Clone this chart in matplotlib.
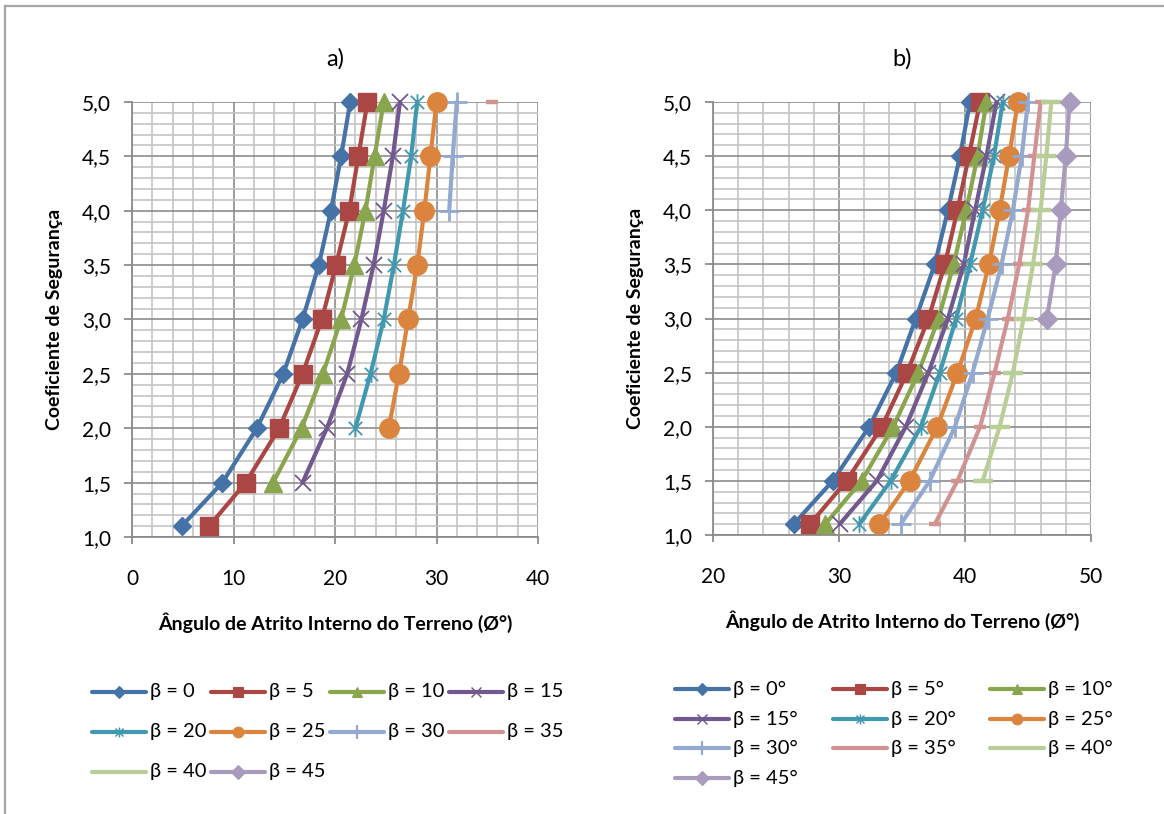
import matplotlib
matplotlib.use("Agg")
import matplotlib.pyplot as plt
from matplotlib.lines import Line2D
from matplotlib.path import Path
from matplotlib.ticker import MultipleLocator, FuncFormatter

plt.rcParams['font.family'] = ['Lato', 'DejaVu Sans']

# ---------------- data ----------------
fs_levels = [5.0, 4.5, 4.0, 3.5, 3.0, 2.5, 2.0, 1.5, 1.1]

# chart a) friction angle (deg) for each beta, listed from FS=5.0 downward
a_beta0 = [21.5, 20.6, 19.6, 18.4, 16.8, 14.9, 12.3, 8.9, 4.9]
a_beta5 = [23.2, 22.3, 21.4, 20.1, 18.7, 16.8, 14.5, 11.2, 7.6]
a_beta10 = [24.8, 23.9, 23.0, 21.9, 20.6, 18.8, 16.7, 13.9]
a_beta15 = [26.4, 25.7, 24.8, 23.8, 22.6, 21.2, 19.2, 16.8]
a_beta20 = [28.1, 27.5, 26.7, 25.8, 24.8, 23.5, 22.0]
a_beta25 = [30.0, 29.4, 28.8, 28.1, 27.2, 26.3, 25.3]
a_beta30 = [32.0, 31.6, 31.25]
a_beta35 = [35.5]
a_labels = ["β = 0", "β = 5", "β = 10", "β = 15", "β = 20",
            "β = 25", "β = 30", "β = 35", "β = 40", "β = 45"]

# chart b)
b_beta0 = [40.4, 39.6, 38.65, 37.6, 36.1, 34.55, 32.4, 29.5, 26.4]
b_beta5 = [41.2, 40.3, 39.4, 38.4, 37.1, 35.4, 33.4, 30.6, 27.7]
b_beta10 = [41.7, 41.0, 40.1, 39.1, 37.9, 36.3, 34.3, 31.8, 28.9]
b_beta15 = [42.5, 41.7, 40.8, 39.9, 38.65, 37.1, 35.3, 33.0, 30.05]
b_beta20 = [43.0, 42.3, 41.4, 40.4, 39.3, 38.0, 36.5, 34.1, 31.6]
b_beta25 = [44.2, 43.5, 42.75, 41.9, 40.85, 39.4, 37.8, 35.6, 33.2]
b_beta30 = [45.0, 44.5, 43.8, 42.9, 41.8, 40.6, 39.2, 37.2, 34.9]
b_beta35 = [46.0, 45.5, 45.0, 44.3, 43.4, 42.35, 41.2, 39.4, 37.6]
b_beta40 = [46.85, 46.45, 46.0, 45.4, 44.65, 43.8, 42.75, 41.4]
b_beta45 = [48.3, 48.0, 47.6, 47.2, 46.5]
b_labels = ["β = 0°", "β = 5°", "β = 10°", "β = 15°", "β = 20°",
            "β = 25°", "β = 30°", "β = 35°", "β = 40°", "β = 45°"]

colors = ['#4573A8', '#AA4643', '#89A54E', '#71588F', '#4198AF',
          '#DB843D', '#93A9CF', '#D19392', '#B9CD96', '#A99BBD']

# ---------------- styles ----------------
star = Path([(-1, -1), (1, 1), (-1, 1), (1, -1), (0, -1.25), (0, 1.25)],
            [Path.MOVETO, Path.LINETO, Path.MOVETO, Path.LINETO, Path.MOVETO, Path.LINETO])

# (marker, size, edge width, filled)
styles = [
    ('D', 9.5, 1.0, True),
    ('s', 13.5, 1.0, True),
    ('^', 13.5, 1.0, True),
    ('x', 12, 1.3, False),
    (star, 12, 1.3, False),
    ('o', 14, 1.0, True),
    ('+', 15, 2.0, False),
    ('_', 8, 3.2, False),
    ('_', 15, 3.2, False),
    ('D', 10.5, 1.0, True),
]
leg_scale = [0.62, 0.55, 0.55, 0.6, 0.6, 0.55, 0.7, 0.0, 0.0, 0.65]

W, H = 1164, 814
fig = plt.figure(figsize=(W / 100, H / 100), dpi=100)


def fx(px):
    return px / W


def fy(py):
    return 1 - py / H


# outer frame (top and left visible)
fig.add_artist(Line2D([fx(5), fx(5)], [fy(6), fy(816)], color='#A6A6A6', lw=1.6))
fig.add_artist(Line2D([fx(5), fx(1170)], [fy(6), fy(6)], color='#A6A6A6', lw=1.6))

ax_a = fig.add_axes([fx(132), fy(537), fx(538) - fx(132), fy(102) - fy(537)])
ax_b = fig.add_axes([fx(713), fy(535), fx(1091) - fx(713), fy(102) - fy(535)])


def draw_series(ax, xs, i):
    m, ms, mew, filled = styles[i]
    c = colors[i]
    ys = fs_levels[:len(xs)]
    ax.plot(xs, ys, color=c, lw=3.0, marker=m, ms=ms, mew=mew,
            mfc=c if filled else 'none', mec=c, clip_on=False, zorder=3 + i * 0.01,
            solid_capstyle='round')


def style_axes(ax, xmin, xmax):
    ax.set_xlim(xmin, xmax)
    ax.set_ylim(1.0, 5.0)
    ax.xaxis.set_major_locator(MultipleLocator(10))
    ax.xaxis.set_minor_locator(MultipleLocator(2))
    ax.yaxis.set_major_locator(MultipleLocator(0.5))
    ax.yaxis.set_minor_locator(MultipleLocator(0.1))
    ax.grid(which='minor', color='#C4C4C4', lw=1.2, zorder=0)
    ax.grid(which='major', color='#8C8C8C', lw=1.2, zorder=0.5)
    ax.set_axisbelow(True)
    for s in ['top', 'right']:
        ax.spines[s].set_visible(False)
    for s in ['left', 'bottom']:
        ax.spines[s].set_color('#8C8C8C')
        ax.spines[s].set_linewidth(1.3)
    ax.tick_params(axis='x', which='major', direction='out', length=5, width=1.3,
                   color='#8C8C8C', pad=18, labelsize=15)
    ax.tick_params(axis='y', which='major', direction='out', length=6, width=1.3,
                   color='#8C8C8C', pad=9, labelsize=15)
    ax.tick_params(which='minor', length=0)
    ax.yaxis.set_major_formatter(FuncFormatter(lambda v, p: f"{v:.1f}".replace('.', ',')))
    ax.xaxis.set_major_formatter(FuncFormatter(lambda v, p: f"{v:.0f}"))
    ax.set_ylabel('Coeficiente de Segurança', fontsize=14, fontweight='bold', labelpad=14)
    ax.set_xlabel('Ângulo de Atrito Interno do Terreno (Ø°)', fontsize=14,
                  fontweight='bold', labelpad=17)


a_series = [a_beta0, a_beta5, a_beta10, a_beta15, a_beta20, a_beta25, a_beta30, a_beta35]
for i, xs in enumerate(a_series):
    draw_series(ax_a, xs, i)
b_series = [b_beta0, b_beta5, b_beta10, b_beta15, b_beta20, b_beta25,
            b_beta30, b_beta35, b_beta40, b_beta45]
for i, xs in enumerate(b_series):
    draw_series(ax_b, xs, i)

style_axes(ax_a, 0, 40)
style_axes(ax_b, 20, 50)
ax_a.set_title('a)', fontsize=17, pad=26)
ax_b.set_title('b)', fontsize=17, pad=26)


def legend_entry(x0, y0, i, label):
    m, ms, mew, filled = styles[i]
    c = colors[i]
    fig.add_artist(Line2D([fx(x0), fx(x0 + 54)], [fy(y0), fy(y0)], color=c, lw=3.0,
                          solid_capstyle='round'))
    if leg_scale[i] > 0:
        fig.add_artist(Line2D([fx(x0 + 27)], [fy(y0)], color=c, lw=0, marker=m,
                              ms=ms * leg_scale[i], mew=mew * 0.8,
                              mfc=c if filled else 'none', mec=c))
    fig.text(fx(x0 + 58), fy(y0), label, fontsize=14.5, va='center', ha='left')


a_cols = [92, 211, 330, 449]
a_rows = [692, 732, 772]
for i, lab in enumerate(a_labels):
    legend_entry(a_cols[i % 4], a_rows[i // 4], i, lab)

b_cols = [675, 833, 990]
b_rows = [689, 719, 748, 778]
for i, lab in enumerate(b_labels):
    legend_entry(b_cols[i % 3], b_rows[i // 3], i, lab)

fig.savefig('out.png', dpi=100)
